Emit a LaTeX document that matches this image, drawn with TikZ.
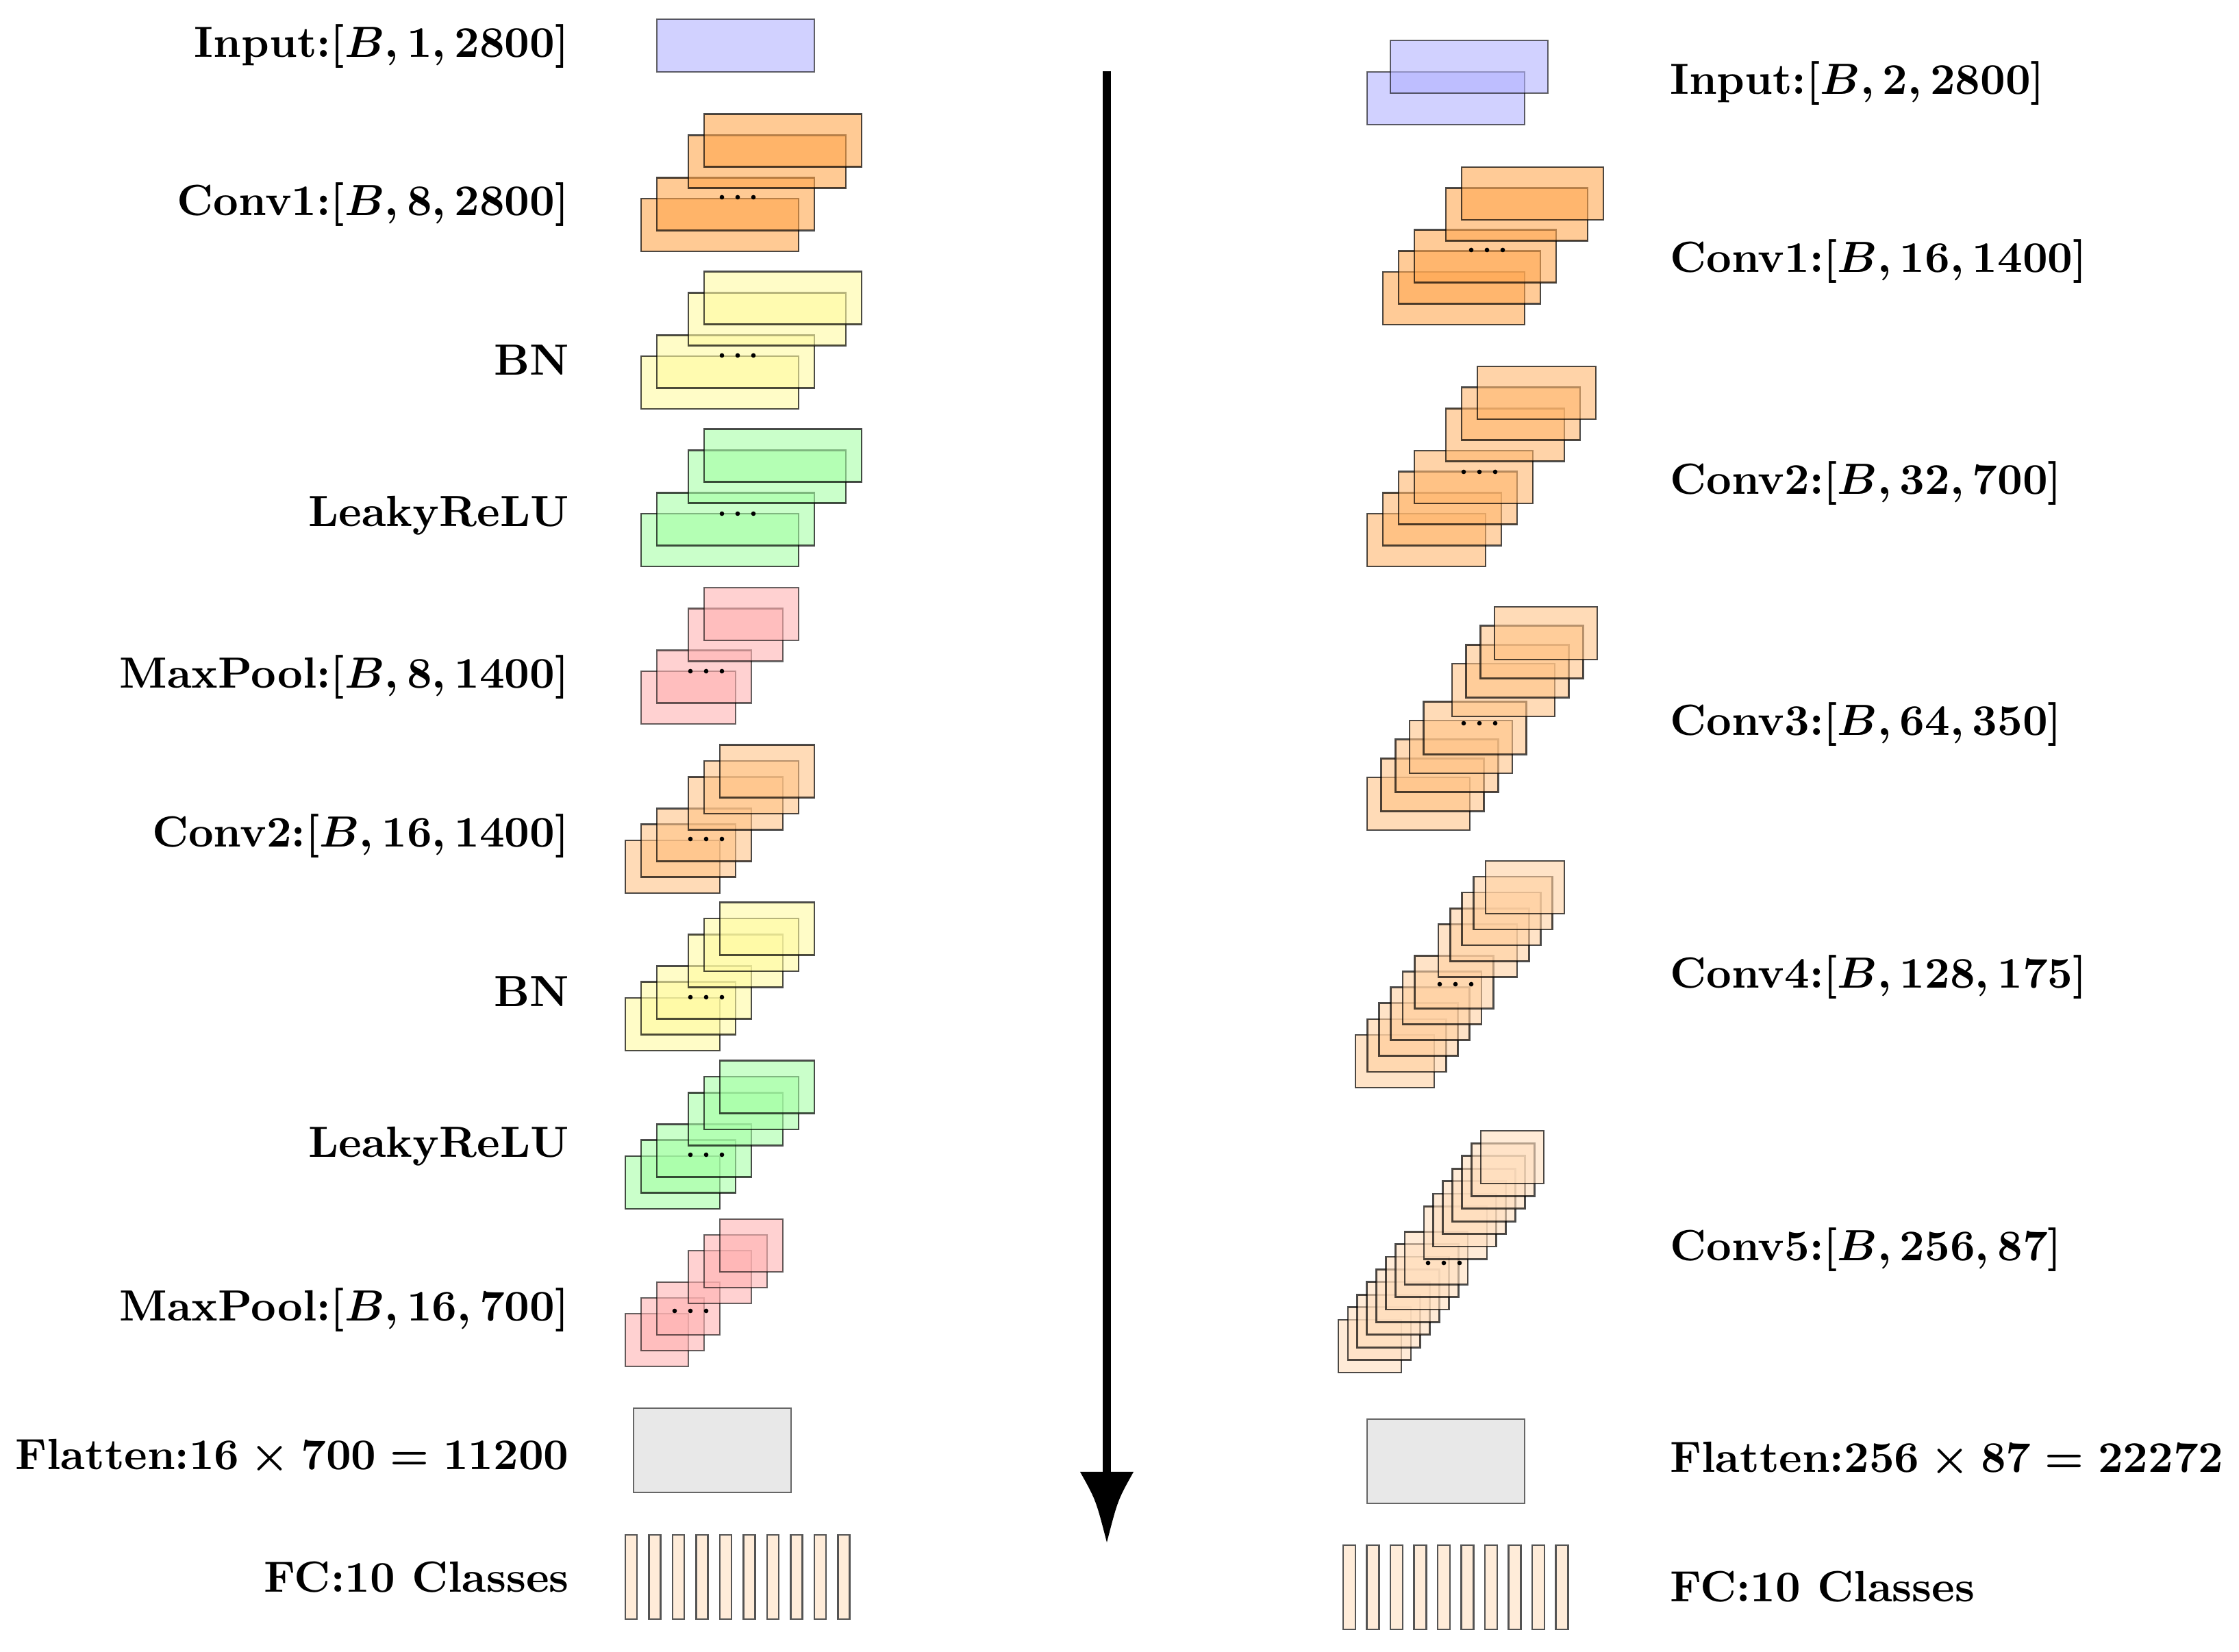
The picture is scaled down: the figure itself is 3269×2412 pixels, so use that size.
\documentclass[tikz,border=0pt]{standalone}
\usepackage{amsmath}
\usepackage{graphicx}
\newcommand{\lbltext}[1]{\scalebox{0.957}{#1}}
\begin{document}
\begin{tikzpicture}[x=0.15pt,y=-0.15pt]
\useasboundingbox (0,0) rectangle (3269,2412);
\tikzset{
  lay/.style={draw=black, draw opacity=0.7, line width=0.4pt, fill opacity=0.6},
  layl/.style={draw=black, draw opacity=0.6, line width=0.4pt, fill opacity=0.6},
  flat/.style={draw=black!60, line width=0.4pt, fill=black!9},
  fcbar/.style={draw=black!67, line width=0.4pt, fill=orange!15},
  lbl/.style={font=\bfseries\boldmath, inner sep=0pt},
  dotc/.style={fill=black}
}
% ---------------- LEFT COLUMN ----------------
% Input
\draw[layl, fill=blue!30] (959,28) rectangle ++(230,77);
% Conv1
\foreach \i in {0,1,3,4} \draw[lay, fill=orange!70] (936+23*\i, 290-30.8*\i) rectangle ++(230,77);
\foreach \k in {-1,0,1} \fill[dotc] (1077+23*\k, 288) circle[radius=0.5pt];
% BN
\foreach \i in {0,1,3,4} \draw[lay, fill=yellow!37] (936+23*\i, 520-30.8*\i) rectangle ++(230,77);
\foreach \k in {-1,0,1} \fill[dotc] (1077+23*\k, 519) circle[radius=0.5pt];
% LeakyReLU
\foreach \i in {0,1,3,4} \draw[lay, fill=green!35] (936+23*\i, 750-30.8*\i) rectangle ++(230,77);
\foreach \k in {-1,0,1} \fill[dotc] (1077+23*\k, 750) circle[radius=0.5pt];
% MaxPool
\foreach \i in {0,1,3,4} \draw[layl, fill=red!30] (936+23*\i, 980-30.5*\i) rectangle ++(138,77);
\foreach \k in {-1,0,1} \fill[dotc] (1031+23*\k, 980) circle[radius=0.5pt];
% Conv2
\foreach \i in {0,1,2,4,5,6} \draw[lay, fill=orange!47] (913+23*\i, 1227-23.2*\i) rectangle ++(138,77);
\foreach \k in {-1,0,1} \fill[dotc] (1031+23*\k, 1225) circle[radius=0.5pt];
% BN
\foreach \i in {0,1,2,4,5,6} \draw[lay, fill=yellow!37] (913+23*\i, 1457-23.2*\i) rectangle ++(138,77);
\foreach \k in {-1,0,1} \fill[dotc] (1031+23*\k, 1456) circle[radius=0.5pt];
% LeakyReLU
\foreach \i in {0,1,2,4,5,6} \draw[lay, fill=green!35] (913+23*\i, 1688-23.2*\i) rectangle ++(138,77);
\foreach \k in {-1,0,1} \fill[dotc] (1031+23*\k, 1686) circle[radius=0.5pt];
% MaxPool
\foreach \i in {0,1,2,4,5,6} \draw[layl, fill=red!30] (913+23*\i, 1918-23*\i) rectangle ++(92,77);
\foreach \k in {-1,0,1} \fill[dotc] (1008+23*\k, 1914) circle[radius=0.5pt];
% Flatten
\draw[flat] (925,2056) rectangle ++(230,123);
% FC
\foreach \k in {0,...,9} \draw[fcbar] (913+34.5*\k, 2241) rectangle ++(17,123);

% labels left
\node[lbl, anchor=base east] (lin)  at (832, 84)   {\lbltext{Input:$[B,1,2800]$}};
\node[lbl, anchor=base east] (lc1)  at (832, 315)  {\lbltext{Conv1:$[B,8,2800]$}};
\node[lbl, anchor=base east] (lbn1) at (832, 548)  {\lbltext{BN}};
\node[lbl, anchor=base east] (lre1) at (832, 769)  {\lbltext{LeakyReLU}};
\node[lbl, anchor=base east] (lmp1) at (832, 1005) {\lbltext{MaxPool:$[B,8,1400]$}};
\node[lbl, anchor=base east] (lc2)  at (832, 1237) {\lbltext{Conv2:$[B,16,1400]$}};
\node[lbl, anchor=base east] (lbn2) at (832, 1470) {\lbltext{BN}};
\node[lbl, anchor=base east] (lre2) at (832, 1690) {\lbltext{LeakyReLU}};
\node[lbl, anchor=base east] (lmp2) at (832, 1929) {\lbltext{MaxPool:$[B,16,700]$}};
\node[lbl, anchor=base east] (lfl)  at (832, 2146) {\lbltext{Flatten:$16\times700=11200$}};
\node[lbl, anchor=base east] (lfc)  at (832, 2325) {\lbltext{FC:10 Classes}};

% ---------------- ARROW ----------------
\coordinate (atop) at (1616,104);
\coordinate (abase) at (1616,2152);
\coordinate (atip) at (1616,2252);
\draw[line width=1.7pt] (atop) -- (abase);
\fill (1577,2149) .. controls (1600,2190) .. (atip) .. controls (1632,2190) .. (1655,2149) -- cycle;

% ---------------- RIGHT COLUMN ----------------
% Input
\foreach \i in {0,1} \draw[layl, fill=blue!30] (1996+34*\i, 105-46*\i) rectangle ++(230,77);
% Conv1
\foreach \i in {0,1,2,4,5} \draw[lay, fill=orange!68] (2019+23*\i, 397-30.6*\i) rectangle ++(207,77);
\foreach \k in {-1,0,1} \fill[dotc] (2171+23*\k, 365) circle[radius=0.5pt];
% Conv2
\foreach \i in {0,1,2,3,5,6,7} \draw[lay, fill=orange!57] (1996+23*\i, 750-30.7*\i) rectangle ++(173,77);
\foreach \k in {-1,0,1} \fill[dotc] (2160+23*\k, 689) circle[radius=0.5pt];
% Conv3
\foreach \i in {0,1,2,3,4,6,7,8,9} \draw[lay, fill=orange!47] (1996+20.67*\i, 1135-27.67*\i) rectangle ++(150,77);
\foreach \k in {-1,0,1} \fill[dotc] (2160+23*\k, 1056) circle[radius=0.5pt];
% Conv4
\foreach \i in {0,1,2,3,4,5,7,8,9,10,11} \draw[lay, fill=orange!37] (1979+17.27*\i, 1511-23.1*\i) rectangle ++(115,77);
\foreach \k in {-1,0,1} \fill[dotc] (2125+23*\k, 1437) circle[radius=0.5pt];
% Conv5
\foreach \i in {0,1,2,3,4,5,6,7,9,10,11,12,13,14,15} \draw[lay, fill=orange!26] (1954+13.87*\i, 1927-18.4*\i) rectangle ++(92,77);
\foreach \k in {-1,0,1} \fill[dotc] (2108+23*\k, 1844) circle[radius=0.5pt];
% Flatten
\draw[flat] (1996,2072) rectangle ++(230,123);
% FC
\foreach \k in {0,...,9} \draw[fcbar] (1961+34.5*\k, 2256) rectangle ++(18,123);

% labels right
\node[lbl, anchor=base west] (rin) at (2437, 138)  {\lbltext{Input:$[B,2,2800]$}};
\node[lbl, anchor=base west] (rc1) at (2437, 398)  {\lbltext{Conv1:$[B,16,1400]$}};
\node[lbl, anchor=base west] (rc2) at (2437, 722)  {\lbltext{Conv2:$[B,32,700]$}};
\node[lbl, anchor=base west] (rc3) at (2437, 1074) {\lbltext{Conv3:$[B,64,350]$}};
\node[lbl, anchor=base west] (rc4) at (2437, 1443) {\lbltext{Conv4:$[B,128,175]$}};
\node[lbl, anchor=base west] (rc5) at (2437, 1841) {\lbltext{Conv5:$[B,256,87]$}};
\node[lbl, anchor=base west] (rfl) at (2437, 2150) {\lbltext{Flatten:$256\times87=22272$}};
\node[lbl, anchor=base west] (rfc) at (2437, 2339) {\lbltext{FC:10 Classes}};
\end{tikzpicture}
\end{document}
